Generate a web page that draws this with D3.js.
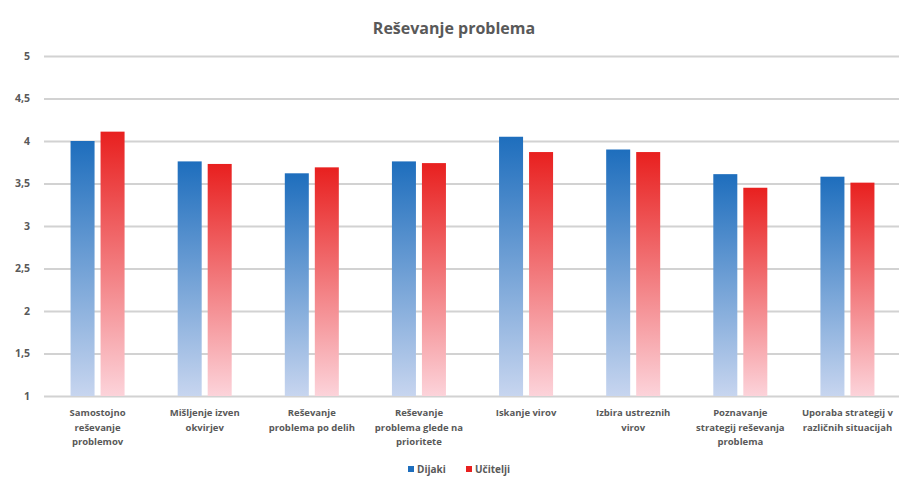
<!DOCTYPE html>
<html lang="sl">
<head>
<meta charset="UTF-8">
<title>Reševanje problema</title>
<style>
  body { margin: 0; background: #fff; }
  text { font-family: "Open Sans", "Noto Sans", sans-serif; }
</style>
</head>
<body>
<svg width="899" height="481"></svg>
<script src="https://d3js.org/d3.v7.min.js"></script>
<script>
const categories = [
  "Samostojno\nreševanje\nproblemov",
  "Mišljenje izven\nokvirjev",
  "Reševanje\nproblema po delih",
  "Reševanje\nproblema glede na\nprioritete",
  "Iskanje virov",
  "Izbira ustreznih\nvirov",
  "Poznavanje\nstrategij reševanja\nproblema",
  "Uporaba strategij v\nrazličnih situacijah"
];
const seriesNames = ["Dijaki", "Učitelji"];
const dijaki   = [4.00, 3.76, 3.62, 3.76, 4.05, 3.90, 3.61, 3.58];
const ucitelji = [4.11, 3.73, 3.69, 3.74, 3.87, 3.87, 3.45, 3.51];
const yTicks = [1, 1.5, 2, 2.5, 3, 3.5, 4, 4.5, 5];

const svg = d3.select("svg");
const W = 899, H = 481;

const x = d3.scaleBand().domain(d3.range(categories.length)).range([44, 901]);
const xs = d3.scaleBand().domain([0, 1]).range([0, x.bandwidth()]).paddingInner(0.2).paddingOuter(0.885);
const y = d3.scaleLinear().domain([1, 5]).range([396, 56]);

// gradients
const defs = svg.append("defs");
const grads = [
  { id: "gBlue", top: "#1e6ebd", bot: "#c7d5ef" },
  { id: "gRed", top: "#e8201f", bot: "#fcd3da" }
];
grads.forEach(g => {
  const lg = defs.append("linearGradient").attr("id", g.id)
    .attr("x1", 0).attr("y1", 0).attr("x2", 0).attr("y2", 1);
  lg.append("stop").attr("offset", "0%").attr("stop-color", g.top);
  lg.append("stop").attr("offset", "100%").attr("stop-color", g.bot);
});

// title
svg.append("text")
  .attr("x", 454).attr("y", 34)
  .attr("text-anchor", "middle")
  .attr("font-size", 16).attr("font-weight", "bold")
  .attr("fill", "#595959")
  .text("Reševanje problema");

// grid + y labels
const yAxis = d3.axisLeft(y).tickValues(yTicks)
  .tickSize(-(W - 44))
  .tickFormat(d => String(d).replace(".", ","));
const ga = svg.append("g").attr("transform", "translate(44,0)").call(yAxis);
ga.select(".domain").remove();
ga.selectAll(".tick line").attr("stroke", "#d2d2d2").attr("stroke-width", 2);
ga.selectAll(".tick text")
  .attr("x", -14)
  .attr("font-size", 10.5).attr("font-weight", "bold")
  .attr("fill", "#595959")
  .style("font-family", "\"Open Sans\", sans-serif");

// bars
const series = [dijaki, ucitelji];
series.forEach((vals, si) => {
  svg.append("g").selectAll("rect").data(vals).join("rect")
    .attr("x", (d, i) => x(i) + xs(si))
    .attr("width", xs.bandwidth())
    .attr("y", d => y(d))
    .attr("height", d => y(1) - y(d))
    .attr("fill", `url(#${grads[si].id})`);
});

// category labels
const lab = svg.append("g");
categories.forEach((c, i) => {
  const t = lab.append("text")
    .attr("x", x(i) + x.bandwidth() / 2)
    .attr("y", 416)
    .attr("text-anchor", "middle")
    .attr("font-size", 9.5).attr("font-weight", "bold")
    .attr("fill", "#595959");
  c.split("\n").forEach((line, k) => {
    t.append("tspan").attr("x", x(i) + x.bandwidth() / 2)
      .attr("dy", k === 0 ? 0 : 14.5).text(line);
  });
});

// legend
const legX = [408, 466];
seriesNames.forEach((n, i) => {
  svg.append("rect").attr("x", legX[i]).attr("y", 466).attr("width", 6).attr("height", 6)
    .attr("fill", grads[i].top);
  svg.append("text").attr("x", legX[i] + 9).attr("y", 473)
    .attr("font-size", 10).attr("font-weight", "bold").attr("fill", "#595959")
    .text(n);
});
</script>
</body>
</html>
